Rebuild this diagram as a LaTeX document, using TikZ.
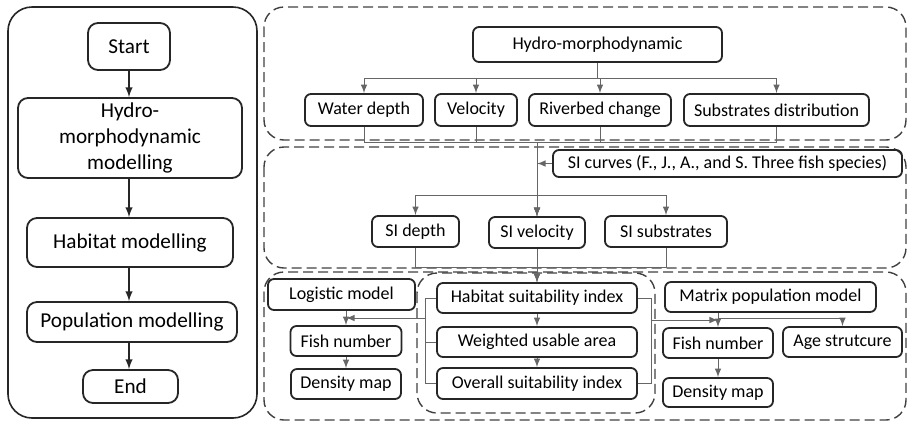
\documentclass[tikz,border=0pt]{standalone}
\usepackage{fontspec}
\setmainfont{Carlito}
\usepackage{tikz}
\usetikzlibrary{arrows}

\tikzset{
  blk/.style 2 args={draw=black!85, line width=0.9pt, rounded corners=3pt,
    minimum width=#1*0.5pt, minimum height=#2*0.5pt, inner sep=0pt,
    align=center, font=\fontsize{9}{11}\selectfont},
  lblk/.style 2 args={blk={#1}{#2}, rounded corners=5pt,
    font=\fontsize{10.6}{13}\selectfont},
  dashframe/.style={dash pattern=on 5pt off 2.5pt, line width=0.7pt,
    black!75, rounded corners=10pt},
  link/.style={black!60, line width=0.5pt},
  arr/.style={link, -latex},
  larr/.style={black!85, line width=0.7pt, -latex},
}

\begin{document}
\begin{tikzpicture}[x=0.5pt,y=-0.5pt]
      \useasboundingbox (0,0) rectangle (908,425);
      \def\outer{(8,7) rectangle (257,418)}
      \def\hydroframe{(264,7) rectangle (906,140)}
      \def\siframe{(264,147) rectangle (906,268)}
      \def\popframe{(264,272) rectangle (906,420)}
      \def\habframe{(417,273) rectangle (655,413)}
      % left: overall workflow
      \draw[black!85, line width=0.8pt, rounded corners=12pt] \outer;
      \node[lblk={82}{47}] (start) at (129,46.5) {Start};
      \node[lblk={224}{80}] (hmod) at (130,138) {Hydro-\\morphodynamic\\modelling};
      \node[lblk={206}{49}] (hab) at (130,242.5) {Habitat modelling};
      \node[lblk={210}{40}] (pop) at (132,322) {Population modelling};
      \node[lblk={95}{33}] (end) at (130.5,386.5) {End};
      \draw[larr] (start) -- (start |- hmod.north);
      \draw[larr] (hmod.south -| start) -- (hab.north -| start);
      \draw[larr] (hab.south -| start) -- (pop.north -| start);
      \draw[larr] (pop.south -| start) -- (end.north -| start);
      % right: the three dashed stages
      \draw[dashframe] \hydroframe;
      \draw[dashframe] \siframe;
      \draw[dashframe] \popframe;
      \draw[dashframe] \habframe;
      % hydro-morphodynamic stage
      \node[blk={249}{35}] (hydro) at (597.5,44.5) {Hydro-morphodynamic};
      \node[blk={118}{32}] (wdepth) at (364,110) {Water depth};
      \node[blk={82}{32}] (vel) at (476,110) {Velocity};
      \node[blk={142}{32}] (river) at (600,110) {Riverbed change};
      \node[blk={185}{32}] (subs) at (776.5,110) {Substrates distribution};
      \foreach \n in {wdepth,vel,river,subs}
        \draw[arr] (hydro.south) -- ++(0,16) -| (\n.north);
      % SI stage
      \node[blk={349}{27}] (sicurves) at (727.5,163.5) {SI curves (F., J., A., and S. Three fish species)};
      \node[blk={87}{31}] (sidepth) at (415.5,231.5) {SI depth};
      \node[blk={96}{31}] (sivel) at (537,232.5) {SI velocity};
      \node[blk={122}{31}] (sisub) at (666,231.5) {SI substrates};
      \foreach \n in {wdepth,vel,river,subs}
        \draw[arr] (\n.south) -- ++(0,16) -| (sivel.north);
      \draw[arr] (sicurves.west) -- (sicurves.west -| sivel.north);
      \coordinate (sisplit) at (537,195);
      \draw[arr] (sisplit) -| (sidepth.north);
      \draw[arr] (sisplit) -| (sisub.north);
      % habitat and population stage
      \node[blk={200}{30}] (hsi) at (537,298) {Habitat suitability index};
      \node[blk={200}{30}] (wua) at (537,342) {Weighted usable area};
      \node[blk={200}{31}] (osi) at (537,383.5) {Overall suitability index};
      \foreach \n in {sidepth,sivel,sisub}
        \draw[arr] (\n.south) -- ++(0,20) -| (hsi.north);
      \draw[arr] (hsi) -- (wua);
      \draw[arr] (wua) -- (osi);
      \node[blk={147}{31}] (logistic) at (341.5,294.5) {Logistic model};
      \node[blk={111}{30}] (fishL) at (346,341) {Fish number};
      \node[blk={110}{30}] (densL) at (346,384) {Density map};
      \node[blk={211}{30}] (matrix) at (770.5,297) {Matrix population model};
      \node[blk={110}{30}] (fishR) at (718,343) {Fish number};
      \node[blk={119}{30}] (age) at (842.5,342) {Age strutcure};
      \node[blk={110}{29}] (densR) at (718,392.5) {Density map};
      \draw[link] (hsi.west) -- ++(-11,0) |- (osi.west);
      \draw[link] (wua.west) -- ++(-11,0);
      \draw[link] (hsi.east) -- ++(14,0) |- (osi.east);
      \coordinate (lbr) at (426,318);
      \coordinate (rbr) at (651,320);
      \coordinate (rsplit) at (718,318);
      \draw[arr] (lbr) -- (lbr -| fishL.north);
      \draw[arr] (logistic.south -| fishL.north) -- (fishL.north);
      \draw[arr] (fishL) -- (densL);
      \draw[arr] (rbr) -- (rbr -| fishR.north);
      \draw[arr] (matrix.south -| fishR.north) -- (fishR.north);
      \draw[arr] (rsplit) -| (age.north);
      \draw[arr] (fishR) -- (densR);
    \end{tikzpicture}
\end{document}
